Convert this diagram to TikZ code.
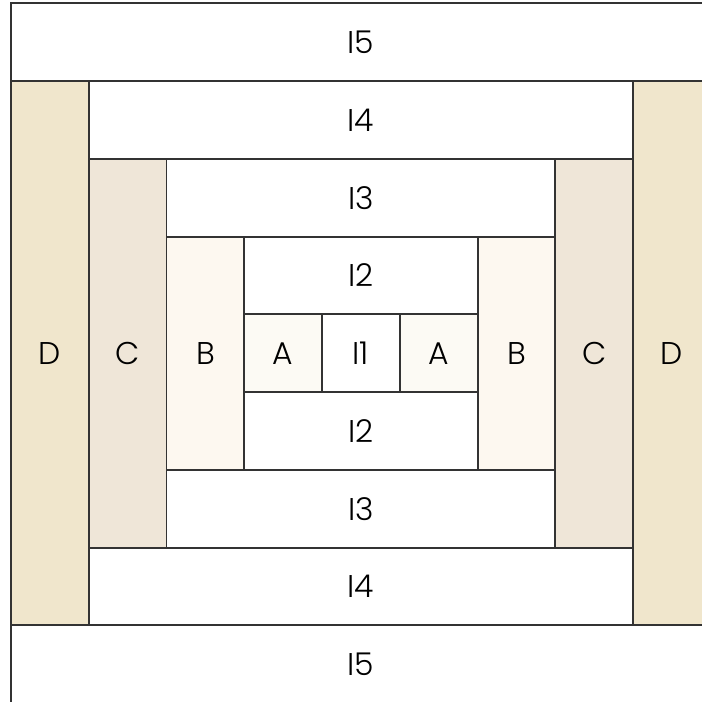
\documentclass[tikz,border=0pt]{standalone}
\usepackage{fontspec}
\setmainfont{Poppins Light}
\usepackage{xcolor}
\definecolor{dcol}{HTML}{F0E6CC}
\definecolor{ccol}{HTML}{EFE6D8}
\definecolor{bcol}{HTML}{FDF8F0}
\definecolor{acol}{HTML}{FCFAF4}
\begin{document}
\begin{tikzpicture}
    	[patch/.style={rectangle, draw=black!80, line width=0.7pt, inner sep=0pt,
    	  font=\fontsize{11.5}{13}\selectfont, minimum width=1cm, minimum height=1cm}]
    	\useasboundingbox (-0.1415,0.015) rectangle (8.874,9.042);
	
    	% outer logs
    	\node (i5top) at (4.5,8.5) [patch, fill=white, minimum width=9cm] {I5};
    	\node (i5bot) at (4.5,0.5) [patch, fill=white, minimum width=9cm] {I5};
    	\node (dleft) at (0.5,4.5) [patch, fill=dcol, minimum height=7cm] {D};
    	\node (dright) at (8.5,4.5) [patch, fill=dcol, minimum height=7cm] {D};
	
    	\node (i4top) at (4.5,7.5) [patch, fill=white, minimum width=7cm] {I4};
    	\node (i4bot) at (4.5,1.5) [patch, fill=white, minimum width=7cm] {I4};
    	\node (cleft) at (1.5,4.5) [patch, fill=ccol, minimum height=5cm] {C};
    	\node (cright) at (7.5,4.5) [patch, fill=ccol, minimum height=5cm] {C};
	
    	\node (i3top) at (4.5,6.5) [patch, fill=white, minimum width=5cm] {I3};
    	\node (i3bot) at (4.5,2.5) [patch, fill=white, minimum width=5cm] {I3};
    	\node (bleft) at (2.5,4.5) [patch, fill=bcol, minimum height=3cm] {B};
    	\node (bright) at (6.5,4.5) [patch, fill=bcol, minimum height=3cm] {B};
	
    	% centre
    	\node (i2top) at (4.5,5.5) [patch, fill=white, minimum width=3cm] {I2};
    	\node (i2bot) at (4.5,3.5) [patch, fill=white, minimum width=3cm] {I2};
    	\node (aleft) at (3.5,4.5) [patch, fill=acol] {A};
    	\node (aright) at (5.5,4.5) [patch, fill=acol] {A};
    	\node (i1) at (4.5,4.5) [patch, fill=white] {I1};
\end{tikzpicture}
\end{document}
